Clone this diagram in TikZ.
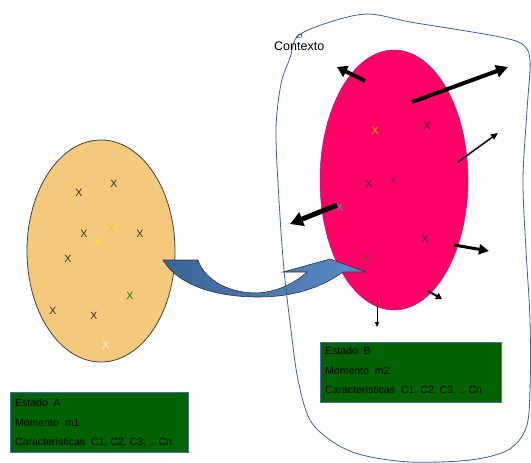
\documentclass[tikz,border=0pt]{standalone}
\usepackage{fontspec}
\setmainfont{Liberation Sans}
\usetikzlibrary{arrows.meta,shapes.geometric}
\definecolor{peach}{HTML}{F5C97C}
\definecolor{rose}{HTML}{FF0066}
\definecolor{rimpurple}{HTML}{8A2A9A}
\definecolor{boxgreen}{HTML}{006200}
\definecolor{boxrim}{HTML}{4A6FA8}
\definecolor{ctxline}{HTML}{3F5F90}
\definecolor{bandleft}{HTML}{3A6498}
\definecolor{bandright}{HTML}{5A8BC8}
\definecolor{markdark}{HTML}{2A2A2A}
\definecolor{markblue}{HTML}{6F8FC4}
\definecolor{markolive}{HTML}{4A5A1A}
\begin{document}
\begin{tikzpicture}[x=1pt,y=-1pt,
  setshape/.style={ellipse,inner sep=0pt,minimum width=#1},
  statebox/.style={draw=boxrim,line width=0.8pt,fill=boxgreen,minimum width=178pt,minimum height=60pt,inner sep=0pt,anchor=north west},
  boxtext/.style={anchor=west,inner sep=0pt,font=\fontsize{10.5}{12}\selectfont,text=black},
  xmark/.style={inner sep=0pt,font=\fontsize{10.5}{12}\selectfont,text=#1},
  push/.style={line width=#1,line cap=butt},
]
\useasboundingbox (0,0) rectangle (531,463);

% the two sets
\node[setshape=148pt,minimum height=222pt,fill=peach,draw=black!75,line width=0.8pt] (setA) at (101,251) {};
\node[setshape=148pt,minimum height=260pt,fill=rose,draw=rimpurple,line width=0.5pt] (setB) at (394,180) {};

% block arrow carrying state A into the context
\draw[left color=bandleft,right color=bandright,draw=black!80,line width=0.6pt]
  (163,260) -- (198,260)
  .. controls (203,276) and (223,292) .. (254,293)
  .. controls (276,293) and (295,283) .. (307,272)
  -- (283,272) -- (330,259) -- (366,272) -- (343,272)
  .. controls (322,287) and (295,297) .. (258,297)
  .. controls (215,297) and (178,285) .. cycle;

% context boundary, with the small pen loop where the stroke starts
\draw[ctxline,line width=0.8pt] plot[smooth cycle,tension=0.55] coordinates {
  (298,36) (330,22) (368,14) (410,22) (460,30) (500,37) (522,44) (530,60)
  (527,110) (523,180) (526,250) (530,320) (530,390) (526,428) (508,450)
  (470,460) (410,462) (362,455) (333,442) (310,420) (298,380) (291,330)
  (284,270) (279,200) (276,130) (281,84) (290,58)};
\draw[ctxline,line width=0.6pt] (296,37) .. controls (299,32) and (304,34) .. (301,37) .. controls (299,38) and (297,38) .. (296,37);
\node[inner sep=0pt,anchor=west,font=\fontsize{12.5}{14}\selectfont] (ctx) at (274,46) {Contexto};

% forces acting on state B
\coordinate (f1s) at (365,81);  \coordinate (f1e) at (337,67);
\coordinate (f2s) at (412,102); \coordinate (f2e) at (508,67);
\coordinate (f3s) at (458,162); \coordinate (f3e) at (498,133);
\coordinate (f4s) at (337,205); \coordinate (f4e) at (290,224);
\coordinate (f5s) at (454,245); \coordinate (f5e) at (489,251);
\coordinate (f6s) at (428,291); \coordinate (f6e) at (442,299);
\coordinate (f7s) at (377,300); \coordinate (f7e) at (377,327);
\draw[push=4pt,-{Triangle[length=10pt,width=12pt]}] (f1s) -- (f1e);
\draw[push=4pt,-{Triangle[length=12pt,width=12pt]}] (f2s) -- (f2e);
\draw[push=1.5pt,-{Triangle[length=7pt,width=6pt]}] (f3s) -- (f3e);
\draw[push=5pt,-{Triangle[length=13pt,width=14pt]}] (f4s) -- (f4e);
\draw[push=3pt,-{Triangle[length=10pt,width=10pt]}] (f5s) -- (f5e);
\draw[push=2pt,-{Triangle[length=6pt,width=7pt]}] (f6s) -- (f6e);
\draw[push=1pt,-{Triangle[length=5pt,width=4pt]}] (f7s) -- (f7e);

% characteristics of state A
\node[xmark=markdark] (a1) at (79,193) {X};
\node[xmark=markdark] (a2) at (114,184) {X};
\node[xmark=markdark] (a3) at (84,234) {X};
\node[xmark={yellow!70!olive}] (a4) at (111,229) {X};
\node[xmark=yellow] (a5) at (98,243) {X};
\node[xmark=markdark] (a6) at (140,234) {X};
\node[xmark=markdark] (a7) at (68,259) {X};
\node[xmark={green!50!black}] (a8) at (130,296) {X};
\node[xmark=markdark] (a9) at (53,311) {X};
\node[xmark=markdark] (a10) at (94,316) {X};
\node[xmark={white!85!peach}] (a11) at (106,345) {X};

% characteristics of state B
\node[xmark={orange!60!yellow}] (b1) at (375,131) {X};
\node[xmark=markdark] (b2) at (427,126) {X};
\node[xmark=markdark] (b3) at (369,184) {X};
\node[xmark={violet!80!black},font=\fontsize{8}{10}\selectfont] (b4) at (393,181) {X};
\node[xmark=markblue] (b5) at (340,208) {X};
\node[xmark=markdark] (b6) at (425,239) {X};
\node[xmark=markolive] (b7) at (366,258) {X};

% state descriptions
\node[statebox] (boxA) at (10,392) {};
\node[boxtext] (boxA1) at ([shift={(5,11)}]boxA.north west) {Estado~~A};
\node[boxtext] (boxA2) at ([shift={(5,30.5)}]boxA.north west) {Momento~~m1};
\node[boxtext] (boxA3) at ([shift={(5,50)}]boxA.north west) {Características~~C1, C2, C3, .. Cn};

\node[statebox,minimum width=181pt] (boxB) at (320,342) {};
\node[boxtext] (boxB1) at ([shift={(5,9)}]boxB.north west) {Estado~~B};
\node[boxtext] (boxB2) at ([shift={(5,28.5)}]boxB.north west) {Momento~~m2};
\node[boxtext] (boxB3) at ([shift={(5,48)}]boxB.north west) {Características~~C1, C2, C3, .. Cn};
\end{tikzpicture}
\end{document}
